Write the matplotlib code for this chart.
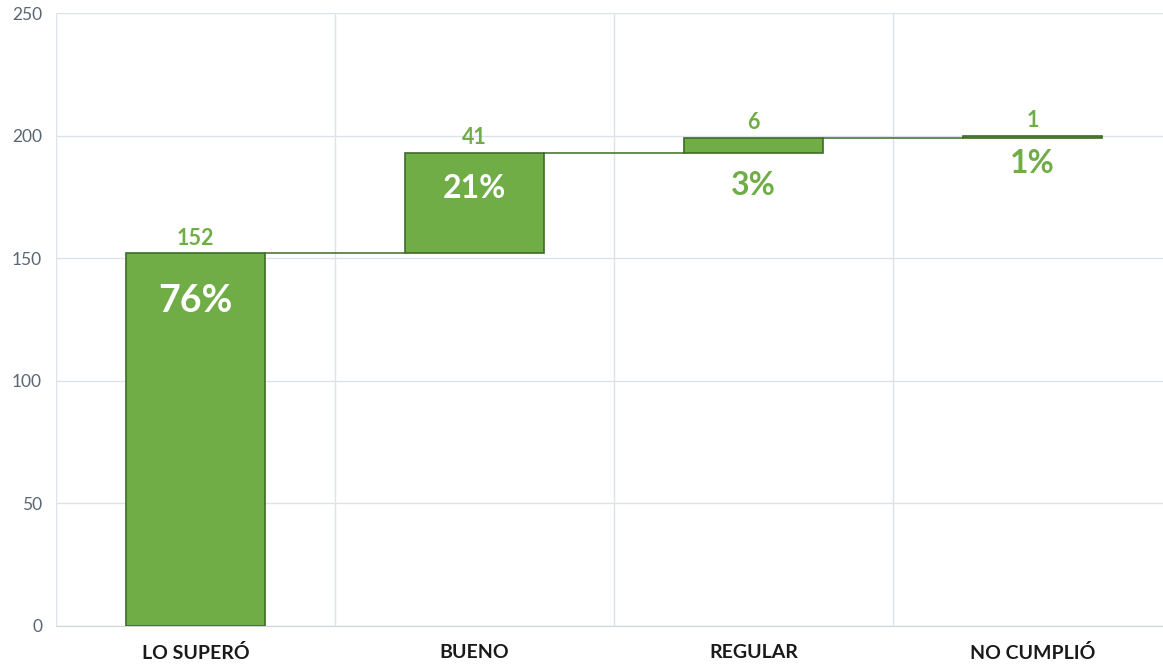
import matplotlib.pyplot as plt
import numpy as np

categories = ['LO SUPERÓ', 'BUENO', 'REGULAR', 'NO CUMPLIÓ']
values = [152, 41, 6, 1]
pct_labels = ['76%', '21%', '3%', '1%']
yticks = [0, 50, 100, 150, 200, 250]

green = '#70AD47'
dark = '#3E6B25'

vals = np.array(values)
tops = np.cumsum(vals)
bottoms = tops - vals
x = np.arange(len(categories))

fig = plt.figure(figsize=(11.63, 6.67), dpi=100)
ax = fig.add_axes([56 / 1163, 41 / 667, 1116 / 1163, 613 / 667])

ax.bar(x, vals, bottom=bottoms, width=0.5, color=green, edgecolor=dark,
       linewidth=1.2, zorder=3)

# conectores entre barras
for i in range(len(x) - 1):
    ax.plot([x[i] + 0.25, x[i + 1] - 0.25], [tops[i], tops[i]],
            color=dark, lw=1.1, zorder=2)

# etiquetas de valor sobre cada barra
for xi, t, v in zip(x, tops, values):
    ax.annotate(str(v), xy=(xi, t), xytext=(0, 11), textcoords='offset points',
                ha='center', va='center', color=green, fontsize=15.5,
                fontweight='bold', family=['Lato', 'DejaVu Sans'], zorder=4)

# porcentajes
pct_colors = ['white', 'white', green, green]
pct_sizes = [27, 23, 23, 23]
pct_offsets = [-34, -26, -34, -20]
for xi, t, lab, c, s, o in zip(x, tops, pct_labels, pct_colors, pct_sizes, pct_offsets):
    ax.annotate(lab, xy=(xi, t), xytext=(0, o), textcoords='offset points',
                ha='center', va='center', color=c, fontsize=s,
                fontweight='bold', family=['Lato', 'DejaVu Sans'], zorder=4)

ax.set_xlim(-0.5, 3.5)
ax.set_ylim(0, 250)
ax.set_yticks(yticks)
ax.set_xticks(x)
ax.set_xticklabels(categories, fontsize=14, fontweight='bold',
                   family=['Lato', 'DejaVu Sans'], color='#1a1a1a')
ax.set_xticks(np.arange(-0.5, 4, 1), minor=True)

ax.grid(axis='y', color='#dde1e8', lw=1, zorder=0)
ax.grid(axis='x', which='minor', color='#dde1e8', lw=1, zorder=0)
ax.grid(axis='x', which='major', visible=False)

for s in ['top', 'right', 'left']:
    ax.spines[s].set_visible(False)
ax.spines['bottom'].set_color('#d0d4dc')

ax.tick_params(axis='y', length=0, pad=10, labelsize=12.5, labelcolor='#5a6672')
ax.tick_params(axis='x', which='both', length=0, pad=13)
for lab in ax.get_yticklabels():
    lab.set_family(['Lato', 'DejaVu Sans'])

fig.savefig('out.png', dpi=100)
